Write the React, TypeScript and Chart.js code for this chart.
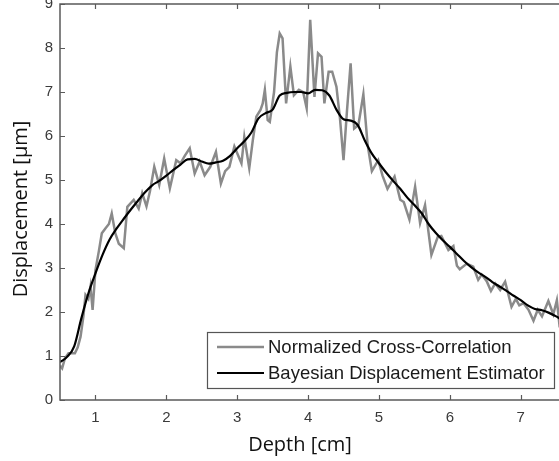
import React, { useEffect, useRef } from 'react';
import { Chart, registerables } from 'chart.js';

Chart.register(...registerables);

// Normalized Cross-Correlation (noisy) – depth [cm], displacement [µm]
const nccDepth = [
  0.5, 0.53, 0.57, 0.62, 0.71, 0.75, 0.79, 0.83, 0.86, 0.9, 0.93, 0.96, 1.0, 1.05, 1.09, 1.14, 1.19, 1.23, 1.28, 1.33,
  1.4, 1.45, 1.54, 1.61, 1.66, 1.72, 1.77, 1.83, 1.9, 1.97, 2.05, 2.14, 2.2, 2.26, 2.33, 2.4, 2.47, 2.54, 2.62, 2.7,
  2.77, 2.83, 2.89, 2.96, 3.06, 3.1, 3.17, 3.22, 3.27, 3.33, 3.36, 3.39, 3.43, 3.46, 3.52, 3.56, 3.6, 3.64, 3.69, 3.75,
  3.8, 3.87, 3.93, 3.98, 4.03, 4.09, 4.14, 4.19, 4.23, 4.29, 4.34, 4.4, 4.45, 4.5, 4.55, 4.6, 4.65, 4.71, 4.78, 4.84,
  4.9, 4.99, 5.05, 5.12, 5.22, 5.3, 5.35, 5.43, 5.51, 5.58, 5.65, 5.74, 5.83, 5.88, 5.98, 6.05, 6.1, 6.14, 6.24, 6.33,
  6.4, 6.45, 6.52, 6.58, 6.64, 6.71, 6.78, 6.87, 6.93, 6.98, 7.04, 7.11, 7.18, 7.24, 7.3, 7.39, 7.46, 7.51, 7.55,
];
const nccDisp = [
  0.78, 0.72, 0.95, 1.06, 1.06, 1.2, 1.44, 1.9, 2.39, 2.3, 2.58, 2.05, 2.95, 3.4, 3.79, 3.9, 4.0, 4.24, 3.79, 3.55,
  3.45, 4.39, 4.55, 4.35, 4.7, 4.4, 4.75, 5.3, 4.89, 5.49, 4.81, 5.45, 5.38, 5.55, 5.72, 5.15, 5.42, 5.11, 5.3, 5.64,
  4.92, 5.2, 5.3, 5.76, 5.38, 5.98, 5.27, 5.9, 6.44, 6.6, 6.74, 7.05, 6.36, 6.32, 7.0, 7.9, 8.33, 8.22, 6.74, 7.58,
  6.93, 7.05, 7.0, 6.63, 8.64, 6.89, 7.88, 7.8, 6.74, 7.46, 7.46, 7.12, 6.4, 5.45, 6.6, 7.65, 6.17, 6.25, 6.95, 5.8,
  5.2, 5.45, 5.1, 4.8, 5.08, 4.55, 4.5, 4.1, 4.85, 4.02, 4.43, 3.3, 3.71, 3.73, 3.41, 3.5, 3.05, 2.97, 3.1, 3.03,
  2.73, 2.85, 2.7, 2.48, 2.65, 2.5, 2.69, 2.12, 2.3, 2.15, 2.2, 2.05, 1.8, 2.05, 1.9, 2.25, 1.95, 2.27, 1.65,
];

// Bayesian Displacement Estimator (smooth)
const bdeDepth = [
  0.5, 0.6, 0.7, 0.8, 0.9, 1.0, 1.1, 1.2, 1.3, 1.4, 1.5, 1.6, 1.7, 1.8, 1.9, 2.0, 2.1, 2.2, 2.3, 2.4,
  2.5, 2.6, 2.7, 2.8, 2.9, 3.0, 3.1, 3.2, 3.3, 3.4, 3.5, 3.6, 3.7, 3.8, 3.9, 4.0, 4.1, 4.2, 4.3, 4.4,
  4.5, 4.6, 4.7, 4.8, 4.9, 5.0, 5.1, 5.2, 5.3, 5.4, 5.5, 5.6, 5.7, 5.8, 5.9, 6.0, 6.1, 6.2, 6.3, 6.4,
  6.5, 6.6, 6.7, 6.8, 6.9, 7.0, 7.1, 7.2, 7.3, 7.4, 7.5, 7.55,
];
const bdeDisp = [
  0.86, 0.98, 1.22, 1.85, 2.42, 2.88, 3.3, 3.65, 3.9, 4.12, 4.33, 4.53, 4.72, 4.88, 4.98, 5.1, 5.23, 5.35, 5.47, 5.48,
  5.42, 5.37, 5.4, 5.44, 5.55, 5.72, 5.88, 6.08, 6.4, 6.52, 6.6, 6.92, 6.98, 7.0, 7.0, 6.97, 7.05, 7.04, 6.92, 6.6,
  6.38, 6.35, 6.25, 5.9, 5.6, 5.38, 5.17, 4.98, 4.8, 4.6, 4.43, 4.25, 4.0, 3.8, 3.63, 3.48, 3.32, 3.16, 3.02, 2.9,
  2.8, 2.68, 2.58, 2.48, 2.37, 2.27, 2.15, 2.07, 2.04, 1.98, 1.9, 1.85,
];

const xTicks = [1, 2, 3, 4, 5, 6, 7];
const yTicks = [0, 1, 2, 3, 4, 5, 6, 7, 8, 9];
const seriesLabels = ['Normalized Cross-Correlation', 'Bayesian Displacement Estimator'];
const xTitle = 'Depth [cm]';
const yTitle = 'Displacement [µm]';

const AXIS_COLOR = '#5a5a5a';
const TICK_TEXT = '#3a3a3a';
const GRAY = '#8a8a8a';

const decoPlugin = {
  id: 'deco',
  afterDraw(chart: any) {
    const { ctx, chartArea, scales } = chart;
    const { left, right, top, bottom } = chartArea;
    const xs = scales.x;
    const ys = scales.y;
    ctx.save();
    // axes box (left, bottom, top)
    ctx.strokeStyle = AXIS_COLOR;
    ctx.lineWidth = 1.5;
    ctx.beginPath();
    ctx.moveTo(right + 1, top);
    ctx.lineTo(left, top);
    ctx.lineTo(left, bottom);
    ctx.lineTo(right + 1, bottom);
    ctx.stroke();
    // inward ticks
    ctx.lineWidth = 1.2;
    ctx.beginPath();
    for (const v of xTicks) {
      const px = Math.round(xs.getPixelForValue(v)) + 0.5;
      ctx.moveTo(px, bottom);
      ctx.lineTo(px, bottom - 5);
      ctx.moveTo(px, top);
      ctx.lineTo(px, top + 5);
    }
    for (const v of yTicks) {
      const py = Math.round(ys.getPixelForValue(v)) + 0.5;
      ctx.moveTo(left, py);
      ctx.lineTo(left + 5, py);
    }
    ctx.stroke();

    // axis titles
    ctx.fillStyle = '#111111';
    ctx.font = '20px "Open Sans"';
    ctx.textAlign = 'center';
    ctx.textBaseline = 'middle';
    ctx.fillText(xTitle, 300, 445);
    ctx.save();
    ctx.translate(21, 209);
    ctx.rotate(-Math.PI / 2);
    ctx.fillText(yTitle, 0, 0);
    ctx.restore();

    // legend
    const bx = 207, by = 332, bw = 347, bh = 56;
    ctx.fillStyle = '#ffffff';
    ctx.fillRect(bx, by, bw, bh);
    ctx.strokeStyle = '#555555';
    ctx.lineWidth = 1.2;
    ctx.strokeRect(bx + 0.5, by + 0.5, bw, bh);
    const ds = chart.data.datasets;
    const rows = [347, 373];
    ds.forEach((d: any, i: number) => {
      ctx.strokeStyle = d.borderColor;
      ctx.lineWidth = d.borderWidth;
      ctx.beginPath();
      ctx.moveTo(217, rows[i]);
      ctx.lineTo(264, rows[i]);
      ctx.stroke();
      ctx.fillStyle = '#1a1a1a';
      ctx.font = '18.5px "Liberation Sans", Arial, sans-serif';
      ctx.textAlign = 'left';
      ctx.textBaseline = 'middle';
      ctx.fillText(d.label, 268, rows[i] + 1);
    });
    ctx.restore();
  },
};

export default function App() {
  const ref = useRef<HTMLCanvasElement | null>(null);
  useEffect(() => {
    if (!ref.current) return;
    const chart = new Chart(ref.current, {
      type: 'line',
      data: {
        datasets: [
          {
            label: seriesLabels[0],
            data: nccDepth.map((x, i) => ({ x, y: nccDisp[i] })),
            borderColor: GRAY,
            borderWidth: 2.5,
            pointRadius: 0,
            tension: 0,
            order: 2,
          },
          {
            label: seriesLabels[1],
            data: bdeDepth.map((x, i) => ({ x, y: bdeDisp[i] })),
            borderColor: '#000000',
            borderWidth: 2.2,
            pointRadius: 0,
            cubicInterpolationMode: 'monotone',
            order: 1,
          },
        ],
      },
      options: {
        animation: false,
        responsive: false,
        devicePixelRatio: 1,
        layout: { padding: { top: 4, right: 0, left: 0, bottom: 0 } },
        plugins: { legend: { display: false }, tooltip: { enabled: false } },
        scales: {
          x: {
            type: 'linear',
            min: 0.5,
            max: 7.54,
            grid: { display: false, drawTicks: false },
            border: { display: false },
            ticks: {
              padding: 9,
              color: TICK_TEXT,
              font: { family: '"Liberation Sans", Arial, sans-serif', size: 15 },
              maxRotation: 0,
            },
            afterBuildTicks: (s: any) => {
              s.ticks = xTicks.map((v) => ({ value: v }));
            },
            afterFit: (s: any) => {
              s.height = 61;
              s.paddingLeft = 0;
              s.paddingRight = 0;
            },
          },
          y: {
            type: 'linear',
            min: 0,
            max: 9,
            grid: { display: false, drawTicks: false },
            border: { display: false },
            ticks: {
              padding: 7,
              color: TICK_TEXT,
              font: { family: '"Liberation Sans", Arial, sans-serif', size: 15 },
            },
            afterBuildTicks: (s: any) => {
              s.ticks = yTicks.map((v) => ({ value: v }));
            },
            afterFit: (s: any) => {
              s.width = 60;
              s.paddingTop = 0;
              s.paddingBottom = 0;
            },
          },
        },
      },
      plugins: [decoPlugin],
    });
    return () => chart.destroy();
  }, []);
  return (
    <div style={{ position: 'absolute', left: 0, top: 0, width: 559, height: 461, background: '#fff' }}>
      <canvas ref={ref} width={559} height={461} />
    </div>
  );
}
